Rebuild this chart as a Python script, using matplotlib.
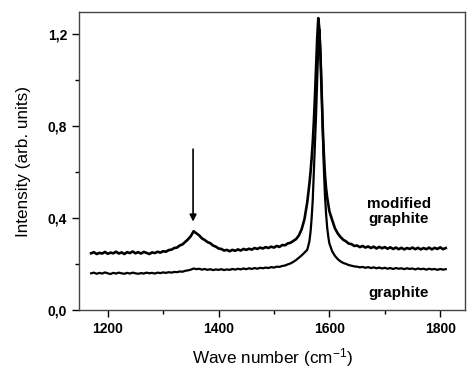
import numpy as np
import matplotlib
matplotlib.use("Agg")
import matplotlib.pyplot as plt
from matplotlib.ticker import FuncFormatter, MultipleLocator

plt.rcParams['font.family'] = ['Liberation Sans', 'DejaVu Sans']
plt.rcParams['mathtext.fontset'] = 'custom'
plt.rcParams['mathtext.rm'] = 'Liberation Sans'
plt.rcParams['mathtext.default'] = 'regular'

# wave number grid (cm^-1): coarse on the baselines, finer across the G band
wave = np.concatenate([np.arange(1170, 1561, 5),
                       np.arange(1562, 1601, 2),
                       np.arange(1605, 1811, 5)])

modified = [
    0.247, 0.252, 0.244, 0.249, 0.246, 0.253, 0.245, 0.250, 0.247, 0.254,
    0.246, 0.251, 0.244, 0.252, 0.248, 0.255, 0.247, 0.252, 0.246, 0.253,
    0.249, 0.244, 0.251, 0.248, 0.254, 0.250, 0.256, 0.254, 0.261, 0.263,
    0.270, 0.272, 0.281, 0.286, 0.297, 0.308, 0.322, 0.343, 0.334, 0.325,
    0.312, 0.305, 0.296, 0.291, 0.281, 0.276, 0.268, 0.266, 0.259, 0.262,
    0.256, 0.262, 0.258, 0.264, 0.259, 0.266, 0.262, 0.267, 0.263, 0.270,
    0.266, 0.272, 0.268, 0.274, 0.270, 0.276, 0.272, 0.279, 0.275, 0.283,
    0.282, 0.290, 0.293, 0.301, 0.309, 0.325, 0.352, 0.395, 0.468,
    # G band
    0.51, 0.55, 0.60, 0.66, 0.73, 0.82, 0.93, 1.06, 1.18, 1.27,
    1.22, 1.10, 0.95, 0.80, 0.68, 0.59, 0.53, 0.49, 0.46, 0.43,
    # tail
    0.392, 0.356, 0.334, 0.318, 0.306, 0.299, 0.289, 0.287, 0.279, 0.281,
    0.274, 0.279, 0.272, 0.277, 0.270, 0.276, 0.268, 0.275, 0.269, 0.274,
    0.267, 0.273, 0.266, 0.272, 0.265, 0.271, 0.264, 0.270, 0.266, 0.272,
    0.265, 0.271, 0.264, 0.270, 0.265, 0.272, 0.264, 0.271, 0.266, 0.273,
    0.265, 0.270,
]

graphite = [
    0.160, 0.163, 0.158, 0.162, 0.159, 0.164, 0.160, 0.157, 0.162, 0.159,
    0.163, 0.160, 0.158, 0.162, 0.159, 0.163, 0.160, 0.158, 0.161, 0.159,
    0.163, 0.160, 0.162, 0.159, 0.163, 0.161, 0.164, 0.162, 0.165, 0.163,
    0.166, 0.165, 0.168, 0.167, 0.171, 0.173, 0.176, 0.181, 0.178, 0.180,
    0.176, 0.179, 0.175, 0.178, 0.174, 0.177, 0.175, 0.178, 0.174, 0.177,
    0.175, 0.179, 0.176, 0.180, 0.177, 0.181, 0.178, 0.182, 0.179, 0.183,
    0.180, 0.184, 0.182, 0.185, 0.183, 0.187, 0.185, 0.189, 0.188, 0.192,
    0.194, 0.199, 0.203, 0.210, 0.218, 0.228, 0.238, 0.250, 0.262,
    # G band
    0.28, 0.30, 0.34, 0.40, 0.48, 0.60, 0.72, 0.85, 1.00, 1.15,
    1.22, 1.12, 0.96, 0.78, 0.62, 0.50, 0.42, 0.36, 0.32, 0.29,
    # tail
    0.256, 0.236, 0.222, 0.212, 0.205, 0.201, 0.196, 0.193, 0.190, 0.189,
    0.186, 0.188, 0.184, 0.187, 0.183, 0.186, 0.182, 0.185, 0.181, 0.184,
    0.180, 0.183, 0.179, 0.183, 0.180, 0.182, 0.178, 0.182, 0.179, 0.181,
    0.177, 0.181, 0.178, 0.180, 0.176, 0.180, 0.177, 0.179, 0.175, 0.179,
    0.176, 0.178,
]

fig = plt.figure(figsize=(4.67, 3.67), dpi=100)
ax = fig.add_axes([0.169, 0.155, 0.827, 0.812])

ax.plot(wave, modified, color='black', lw=1.9)
ax.plot(wave, graphite, color='black', lw=1.6)

ax.set_xlim(1148, 1845)
ax.set_ylim(0, 1.296)
ax.xaxis.set_major_locator(MultipleLocator(200))
ax.xaxis.set_minor_locator(MultipleLocator(100))
ax.yaxis.set_major_locator(MultipleLocator(0.4))
ax.yaxis.set_minor_locator(MultipleLocator(0.2))
ax.yaxis.set_major_formatter(FuncFormatter(lambda v, p: f"{v:.1f}".replace('.', ',')))

ax.tick_params(which='major', direction='out', length=5, width=1.0,
               labelsize=10)
ax.tick_params(which='minor', direction='out', length=3, width=1.0)
for lbl in ax.get_xticklabels() + ax.get_yticklabels():
    lbl.set_fontweight('bold')
ax.tick_params(top=False, right=False)
for s in ax.spines.values():
    s.set_linewidth(1.0)
    s.set_color('#444444')

ax.set_xlabel('Wave number (cm$^{-1}$)', fontsize=12.3, labelpad=7)
ax.set_ylabel('Intensity (arb. units)', fontsize=12.3, labelpad=12)

ax.annotate('', xy=(1354, 0.385), xytext=(1354, 0.70),
            arrowprops=dict(arrowstyle='-|>', color='black', lw=1.2,
                            mutation_scale=10, shrinkA=0, shrinkB=0))

ax.text(1725, 0.43, 'modified\ngraphite', ha='center', va='center',
        fontsize=11, fontweight='bold', linespacing=1.1)
ax.text(1725, 0.074, 'graphite', ha='center', va='center',
        fontsize=11, fontweight='bold')

fig.savefig('out.png', dpi=100)
